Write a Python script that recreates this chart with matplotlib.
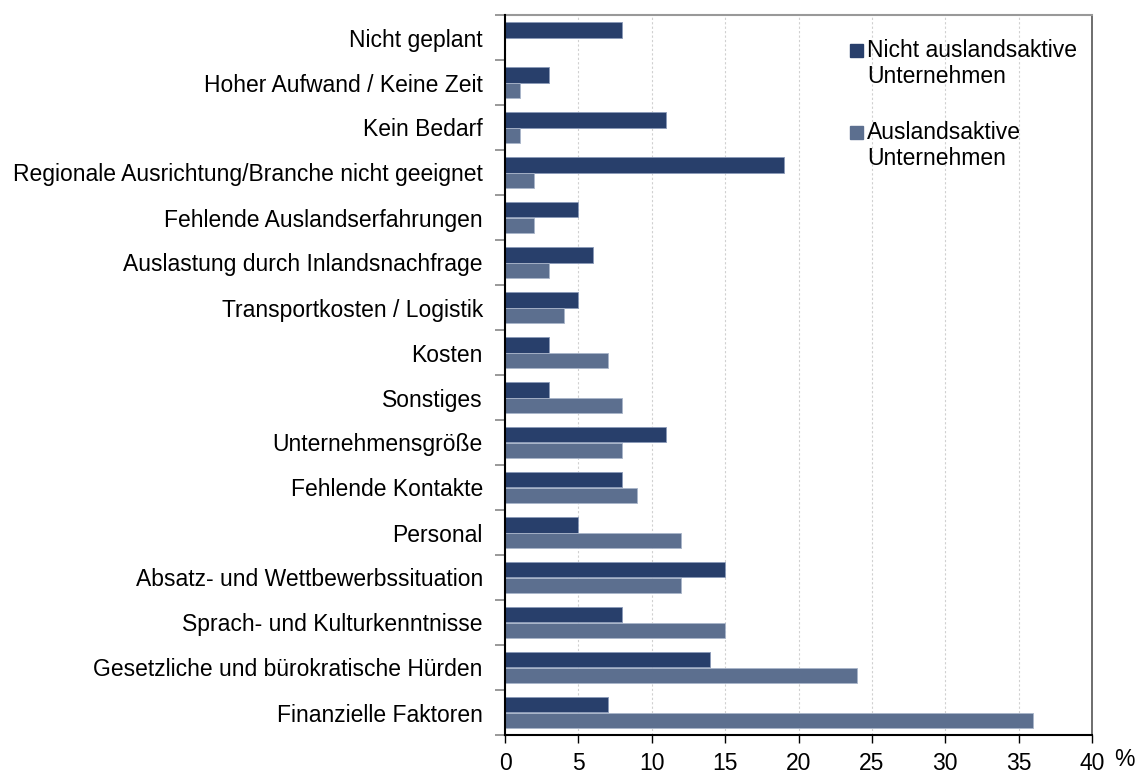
import matplotlib
matplotlib.use("Agg")
import matplotlib.pyplot as plt
from matplotlib.patches import Rectangle
import numpy as np

plt.rcParams['font.family'] = ['Liberation Sans', 'DejaVu Sans']

# categories top to bottom
categories = ['Nicht geplant', 'Hoher Aufwand / Keine Zeit', 'Kein Bedarf',
              'Regionale Ausrichtung/Branche nicht geeignet',
              'Fehlende Auslandserfahrungen', 'Auslastung durch Inlandsnachfrage',
              'Transportkosten / Logistik', 'Kosten', 'Sonstiges',
              'Unternehmensgröße', 'Fehlende Kontakte', 'Personal',
              'Absatz- und Wettbewerbssituation', 'Sprach- und Kulturkenntnisse',
              'Gesetzliche und bürokratische Hürden', 'Finanzielle Faktoren']
nicht_aktiv = [8, 3, 11, 19, 5, 6, 5, 3, 3, 11, 8, 5, 15, 8, 14, 7]
aktiv = [0, 1, 1, 2, 2, 3, 4, 7, 8, 8, 9, 12, 12, 15, 24, 36]
series_names = ['Nicht auslandsaktive\nUnternehmen', 'Auslandsaktive\nUnternehmen']
x_ticks = [0, 5, 10, 15, 20, 25, 30, 35, 40]

dark = '#283f6b'
light = '#5c6f8f'
W, H = 1136, 774
fs = 16.5

fig = plt.figure(figsize=(W/100, H/100), dpi=100)
ax = fig.add_axes([505/W, 1-735/H, (1092-505)/W, (735-15)/H])

y = np.arange(len(categories))
h = 0.35
ax.barh(y - h/2, nicht_aktiv, height=h, color=dark, edgecolor='#8a9ab8',
        linewidth=0.6, zorder=3)
ax.barh(y + h/2, aktiv, height=h, color=light, edgecolor='#a9b5ca',
        linewidth=0.6, zorder=3)

ax.set_ylim(len(categories) - 0.5, -0.5)
ax.set_xlim(0, 40)
ax.set_xticks(x_ticks)
ax.set_xticklabels([str(t) for t in x_ticks], fontsize=fs)
ax.tick_params(axis='x', length=6, width=1, color='black', pad=6)

ax.set_yticks(y)
ax.set_yticklabels(categories, fontsize=fs)
ax.set_yticks(np.arange(-0.5, len(categories), 1), minor=True)
ax.tick_params(axis='y', which='major', length=0, pad=16)
ax.tick_params(axis='y', which='minor', length=7, width=1.2, color='#888888')

ax.grid(axis='x', color='#d0d0d0', linestyle=(0, (2, 2)), linewidth=0.8, zorder=0)
ax.spines['left'].set_color('black')
ax.spines['left'].set_linewidth(1.5)
ax.spines['left'].set_zorder(4)
ax.spines['bottom'].set_color('black')
ax.spines['bottom'].set_linewidth(1.5)
ax.spines['top'].set_color('#999999')
ax.spines['top'].set_linewidth(1.5)
ax.spines['right'].set_color('#555555')
ax.spines['right'].set_linewidth(1.2)

fig.text(1114/W, 1-760/H, '%', fontsize=fs, ha='left', va='center')

# legend drawn by hand
for (sq_top, name, col) in [(45, series_names[0], dark), (127, series_names[1], light)]:
    fig.patches.append(Rectangle((850/W, 1-(sq_top+12)/H), 13/W, 13/H,
                                 transform=fig.transFigure, color=col))
    fig.text(867/W, 1-(sq_top-6)/H, name, fontsize=fs, ha='left', va='top',
             linespacing=1.15)

fig.savefig('out.png', dpi=100)
